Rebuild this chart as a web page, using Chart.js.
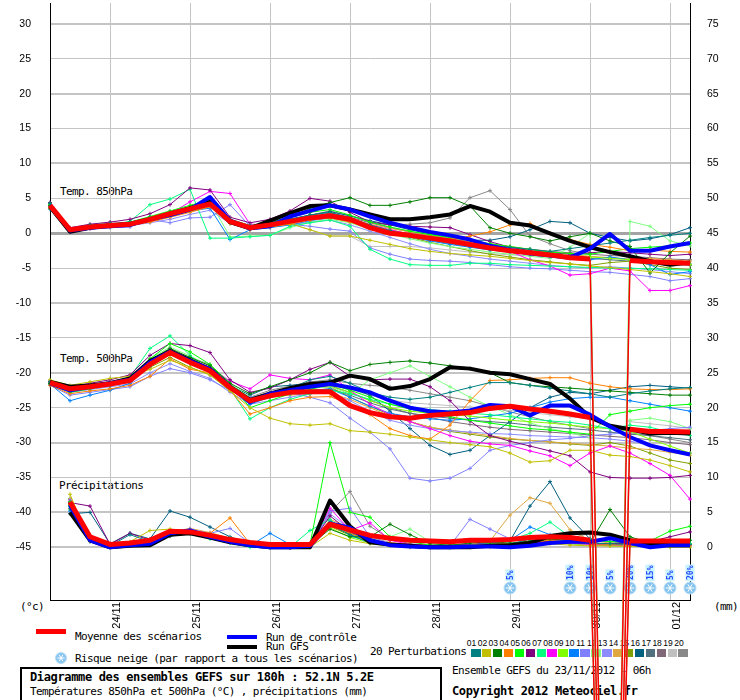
<!DOCTYPE html>
<html lang="fr"><head><meta charset="utf-8"><title>Diagramme des ensembles GEFS</title>
<script src="https://cdn.jsdelivr.net/npm/chart.js@4.4.1/dist/chart.umd.min.js"></script>
<style>
html,body{margin:0;padding:0;background:#fff;}
#wrap{position:relative;width:740px;height:700px;overflow:hidden;background:#fff;}
#c{position:absolute;left:0;top:0;z-index:5;}
.t{position:absolute;z-index:1;font-family:"DejaVu Sans Mono",monospace;font-size:11px;letter-spacing:-0.6px;line-height:12px;color:#000;white-space:nowrap;}
.tb{font-weight:bold;font-size:12px;letter-spacing:-0.35px;}
.bar{position:absolute;z-index:1;}
.num{position:absolute;z-index:1;font-family:"Liberation Sans",sans-serif;font-size:8.5px;line-height:9px;width:11px;text-align:center;color:#000;}
.sw{position:absolute;z-index:1;width:9.5px;height:8px;}
.frame{position:absolute;z-index:1;border:2px solid #000;}
</style></head><body>
<div id="wrap">
<canvas id="c" width="740" height="700" style="width:740px;height:700px"></canvas>
<div class="t" style="left:60px;top:186px">Temp. 850hPa</div>
<div class="t" style="left:60px;top:353px">Temp. 500hPa</div>
<div class="t" style="left:59px;top:480px">Précipitations</div>
<div class="t" style="left:20px;top:601px">(°c)</div>
<div class="t" style="left:714px;top:601px">(mm)</div>
<div class="bar" style="left:36px;top:629px;width:30px;height:5px;background:#ff0000"></div>
<div class="t" style="left:75px;top:631px">Moyenne des scénarios</div>
<div class="bar" style="left:227px;top:635px;width:30px;height:4px;background:#0000ff"></div>
<div class="t" style="left:266px;top:632px">Run de contrôle</div>
<div class="bar" style="left:227px;top:645px;width:30px;height:4px;background:#000"></div>
<div class="t" style="left:266px;top:641px">Run GFS</div>
<div class="t" style="left:75px;top:653px">Risque neige (par rapport a tous les scénarios)</div>
<div class="t" style="left:370px;top:646px">20 Perturbations</div>
<div id="plegend"></div>
<div class="frame" style="left:20px;top:667px;width:418px;height:40px"></div>
<div class="t tb" style="left:30px;top:671px">Diagramme des ensembles GEFS sur 180h : 52.1N 5.2E</div>
<div class="t" style="left:30px;top:686px">Températures 850hPa et 500hPa (°C) , précipitations (mm)</div>
<div class="t" style="left:452px;top:665px">Ensemble GEFS du 23/11/2012 - 06h</div>
<div class="t tb" style="left:452px;top:685px">Copyright 2012 Meteociel.fr</div>
</div>
<script>
// ---- time axis (forecast hours from 23/11 06h) ----
const hours = [0,6,12,18,24,30,36,42,48,54,60,66,72,78,84,90,96,102,108,114,120,126,132,138,144,150,156,162,168,174,180,186,192];
const dayTickHours = [18,42,66,90,114,138,162,186];
const dayLabels = ['24/11','25/11','26/11','27/11','28/11','29/11','30/11','01/12'];
const leftTicks = [30,25,20,15,10,5,0,-5,-10,-15,-20,-25,-30,-35,-40,-45];
const rightTicks = [75,70,65,60,55,50,45,40,35,30,25,20,15,10,5,0];
// snow risk (%) per step
const snowRisk = [null,null,null,null,null,null,null,null,null,null,null,null,null,null,null,null,null,null,null,null,null,null,null,5,null,null,10,10,5,20,15,5,20];

const pertNames = ['01','02','03','04','05','06','07','08','09','10','11','12','13','14','15','16','17','18','19','20'];
const pertColors = ['#008080','#c0c000','#008000','#ff8000','#00ff00','#800080','#00ff80','#ff00ff','#80ff00','#0080ff','#8080ff','#80ff80','#8c8cff','#e0a840','#80a000','#006080','#507080','#806878','#c0c0c0','#888888'];

// ---- Temp 850 hPa (°C) ----
const t850Mean    = [4.0,0.5,0.9,1.1,1.3,2.0,2.8,3.5,4.2,1.7,0.8,1.2,1.7,2.2,2.5,2.0,0.8,0.0,-0.3,-0.7,-1.1,-1.6,-2.1,-2.5,-2.8,-3.1,-3.5,-3.7,-150,-3.9,-4.1,-4.2,-4.3];
const t850Control = [4.0,0.4,0.8,1.0,1.2,2.0,2.6,3.4,5.2,1.8,0.7,1.0,2.4,3.2,4.0,3.4,2.4,1.5,0.8,0.2,-0.3,-0.9,-1.8,-2.4,-2.9,-3.2,-3.5,-2.2,-0.1,-2.5,-2.5,-1.9,-1.4];
const t850Gfs     = [3.8,0.2,0.8,1.1,1.3,2.0,2.8,3.6,4.5,1.6,0.7,1.8,2.9,3.9,4.0,3.4,2.7,2.0,2.0,2.3,2.7,3.9,3.1,1.5,1.1,0.0,-1.1,-2.0,-2.7,-3.3,-4.0,-4.5,-4.2];
const t850Members = [
 [4.3,0.6,1.2,1.4,1.6,2.2,3.0,3.6,4.4,1.9,1.0,1.6,2.0,2.6,3.0,2.2,1.2,0.4,-0.3,-0.8,-1.2,-1.5,-1.8,-2.0,-2.3,-2.6,-2.2,-1.8,-1.4,-1.0,-0.6,-0.3,0.0],
 [3.8,0.3,0.8,1.0,1.3,1.8,2.5,3.2,4.0,1.5,0.8,1.0,1.4,0.5,-0.4,-0.4,-1.0,-1.6,-2.2,-2.6,-2.9,-3.1,-3.3,-3.6,-3.9,-4.2,-4.4,-4.7,-4.9,-5.2,-5.5,-5.8,-6.2],
 [4.0,0.5,1.0,1.3,1.5,2.1,2.9,3.7,4.6,1.8,1.0,1.5,2.2,3.6,4.4,5.1,4.0,4.0,4.5,5.1,5.1,3.9,0.8,0.0,-0.5,-1.1,-0.5,0.0,-1.1,-1.9,-5.7,-2.8,-0.4],
 [3.6,0.3,0.7,0.9,1.1,1.6,2.3,3.0,3.8,1.4,0.5,0.9,1.3,1.9,2.2,1.6,0.8,0.3,-0.2,-0.6,-0.9,-0.4,0.2,1.2,1.4,0.0,-0.9,-1.6,-2.0,-2.5,-2.4,-2.6,-2.7],
 [4.2,0.6,1.1,1.3,1.6,2.4,3.2,4.0,4.8,2.0,1.1,1.6,2.3,3.0,3.4,2.6,1.6,0.9,0.3,-0.2,-0.6,-1.0,-1.5,-1.9,-2.3,-2.7,-2.9,-3.0,-2.6,-2.2,-2.0,-1.8,-1.4],
 [4.4,0.8,1.3,1.6,2.0,2.8,4.1,6.5,6.2,2.3,1.5,2.0,3.2,5.0,4.6,3.0,1.6,1.2,1.0,0.9,0.8,-0.2,-1.2,-2.0,-2.5,-2.8,-3.0,-2.8,-2.6,-2.8,-3.0,-3.2,-3.0],
 [3.5,0.4,0.9,1.2,1.7,4.1,4.9,6.3,-0.7,-0.7,-0.5,-0.3,1.0,1.5,1.9,1.0,-2.3,-3.7,-4.5,-4.6,-4.6,-4.3,-4.3,-4.5,-4.6,-4.7,-4.8,-4.9,-5.0,-5.0,-5.1,-5.2,-5.3],
 [3.9,0.5,1.0,1.2,1.4,2.0,2.8,4.5,6.0,5.7,1.3,1.2,1.6,2.2,2.6,2.0,1.2,0.5,-0.1,-0.7,-1.2,-1.6,-2.0,-2.6,-3.8,-4.7,-6.0,-5.8,-5.0,-5.4,-8.2,-8.2,-7.5],
 [3.7,0.4,0.9,1.1,1.3,2.0,2.9,3.6,4.4,1.7,0.8,1.2,1.5,2.0,2.5,1.9,1.1,0.5,-0.1,-0.7,-1.2,-1.6,-2.0,-2.4,-2.7,-3.0,-3.2,-3.4,-3.6,-3.8,-4.0,-4.3,-4.5],
 [3.8,0.3,0.8,1.0,1.2,1.7,2.4,3.2,3.6,-0.9,0.5,0.8,1.2,1.8,2.2,1.7,0.9,0.2,-0.5,-1.1,-1.6,-2.0,-2.4,-2.7,-3.0,-3.3,-3.6,-3.8,-3.4,-3.8,-4.5,-5.9,-5.5],
 [3.4,0.2,0.6,0.8,0.9,2.0,1.5,2.2,2.3,4.1,1.0,1.1,1.3,1.0,0.6,0.3,-2.1,-3.0,-3.7,-3.9,-4.0,-4.2,-4.5,-4.8,-5.0,-5.1,-5.3,-5.5,-5.6,-5.9,-6.2,-6.8,-6.5],
 [4.1,0.5,1.0,1.2,1.5,2.2,3.0,3.8,4.5,-0.5,-0.4,-0.3,0.8,1.6,2.0,1.5,0.6,-0.1,-0.8,-1.4,-1.9,-2.3,-2.7,-3.0,-3.3,-3.6,-2.0,0.0,-150,1.7,1.0,-1.1,-1.8],
 [3.6,0.3,0.7,0.9,1.1,1.5,2.0,2.7,3.3,1.4,0.6,0.9,1.2,1.6,1.9,1.2,0.3,-0.6,-1.5,-2.3,-2.9,-3.3,-3.7,-4.0,-4.3,-4.6,-4.8,-5.0,-4.8,-5.0,-5.2,-5.5,-5.8],
 [3.9,0.4,0.9,1.1,1.3,1.9,2.7,3.4,4.1,1.6,0.9,1.3,1.7,2.3,2.7,2.1,1.3,0.7,0.2,-0.3,-0.7,-1.1,-1.5,-1.9,-2.3,-2.7,-3.0,-3.3,-3.5,-3.7,-3.6,-3.8,-4.0],
 [4.0,0.5,1.0,1.2,1.4,2.0,2.8,3.5,4.3,1.8,0.8,1.2,1.6,2.1,2.5,1.8,0.9,0.2,-0.6,-1.3,-1.9,-2.5,-3.0,-3.4,-3.8,-4.1,-4.4,-4.6,-4.2,-4.0,-4.5,-5.0,-5.2],
 [4.2,0.6,1.1,1.3,1.6,2.3,3.1,3.8,4.6,2.0,1.1,1.5,2.0,2.6,3.1,2.5,1.8,1.2,0.5,-0.1,-0.6,-1.0,-1.0,-0.5,0.5,1.7,1.5,0.0,-0.6,-1.1,-0.8,-0.2,0.8],
 [3.7,0.4,0.9,1.1,1.3,1.8,2.5,3.3,4.0,1.5,0.7,1.1,1.5,2.0,2.3,1.7,0.9,0.2,-0.4,-1.0,-1.5,-1.9,-2.3,-2.6,-2.9,-3.2,-3.4,-3.6,-3.8,-4.0,-4.1,-4.3,-4.6],
 [3.8,0.4,0.9,1.2,1.4,2.0,2.8,3.5,4.2,1.7,0.9,1.3,1.8,2.4,2.9,2.3,1.5,0.8,0.2,-0.3,-0.8,-1.2,-1.6,-2.0,-2.3,-2.6,-2.8,-3.0,-3.2,-3.3,-3.5,-3.7,-3.8],
 [3.5,0.2,0.7,1.0,1.2,1.7,2.4,3.1,3.8,1.4,0.6,1.0,1.4,0.5,-0.4,-0.4,-1.9,-1.9,-1.9,-2.1,-2.4,-2.7,-2.9,-3.1,-3.2,-3.3,-3.4,-3.6,-150,-3.9,-4.1,-4.4,-4.6],
 [3.9,0.5,1.0,1.2,1.5,2.1,2.9,3.6,4.4,1.8,1.0,1.5,2.0,2.6,3.2,2.5,1.6,1.2,1.3,1.5,2.2,5.1,6.1,3.4,-0.4,-1.5,-2.5,-3.0,-150,-3.6,-3.8,-4.2,-4.4]
];

// ---- Temp 500 hPa (°C) ----
const t500Mean    = [-21.4,-22.3,-22.0,-21.6,-21.1,-18.8,-17.1,-18.5,-19.7,-22.1,-24.0,-23.3,-22.8,-22.7,-22.7,-24.7,-25.7,-26.3,-26.5,-26.1,-25.9,-25.7,-25.1,-24.8,-25.2,-25.5,-25.9,-26.4,-150,-28.1,-28.4,-28.4,-28.5];
const t500Control = [-21.5,-22.5,-22.0,-21.5,-21.0,-18.5,-17.0,-18.3,-19.5,-22.0,-24.2,-23.0,-22.5,-22.0,-21.6,-22.1,-22.8,-24.0,-25.0,-25.5,-25.7,-25.4,-24.6,-24.8,-26.1,-24.7,-24.7,-26.0,-27.7,-29.2,-30.4,-31.1,-31.7];
const t500Gfs     = [-21.3,-22.0,-21.8,-21.5,-20.8,-18.3,-16.9,-18.2,-19.5,-22.0,-23.9,-23.0,-22.2,-21.6,-21.4,-20.4,-20.9,-22.3,-21.9,-20.9,-19.2,-19.4,-20.0,-20.2,-20.9,-21.6,-23.7,-26.4,-27.6,-28.1,-28.7,-28.6,-28.7];
const t500Members = [
 [-21.3,-22.6,-22.2,-21.8,-21.0,-18.6,-16.8,-18.3,-19.5,-22.0,-24.0,-23.0,-22.3,-21.0,-20.5,-21.5,-22.8,-23.5,-23.8,-23.5,-22.8,-22.1,-21.4,-21.4,-21.8,-22.2,-22.6,-23.0,-23.5,-23.0,-22.6,-22.3,-22.1],
 [-21.0,-21.8,-21.3,-20.8,-20.5,-19.5,-18.2,-19.2,-20.3,-22.6,-25.0,-26.5,-27.3,-27.5,-27.3,-28.3,-28.5,-28.8,-29.2,-29.6,-30.0,-30.3,-30.6,-31.5,-32.8,-32.6,-31.1,-31.1,-31.8,-32.0,-32.5,-33.3,-34.2],
 [-21.5,-22.3,-22.0,-21.5,-20.8,-18.2,-16.5,-17.8,-19.0,-21.5,-23.0,-22.0,-21.0,-20.0,-18.5,-19.7,-18.8,-18.5,-18.3,-18.6,-19.0,-19.4,-20.0,-21.4,-21.8,-22.0,-22.2,-22.4,-22.6,-22.8,-23.0,-23.2,-23.2],
 [-21.8,-23.0,-22.6,-22.3,-21.8,-20.5,-18.0,-19.5,-20.0,-22.5,-25.9,-25.0,-24.0,-23.5,-23.4,-24.5,-26.0,-28.0,-29.0,-29.5,-27.5,-24.0,-21.1,-21.0,-20.8,-20.7,-20.7,-21.5,-22.0,-22.3,-22.4,-22.4,-22.3],
 [-21.5,-22.8,-22.3,-21.8,-21.0,-18.0,-15.8,-17.0,-18.8,-21.5,-25.0,-24.0,-23.0,-22.4,-21.6,-22.5,-23.5,-24.5,-25.2,-25.8,-26.3,-26.8,-27.2,-27.6,-28.0,-28.2,-28.5,-28.8,-26.0,-25.5,-25.0,-24.7,-24.5],
 [-21.2,-22.0,-21.5,-21.0,-20.3,-17.5,-15.8,-16.1,-17.1,-21.0,-22.8,-22.2,-21.0,-19.5,-18.5,-20.5,-21.0,-20.9,-20.9,-22.0,-24.0,-26.9,-29.0,-29.8,-30.5,-31.2,-31.9,-34.2,-35.0,-35.1,-35.1,-35.0,-34.7],
 [-21.6,-22.5,-22.0,-21.5,-20.6,-16.5,-14.7,-17.5,-19.8,-22.3,-26.6,-25.0,-23.8,-23.0,-22.5,-23.0,-23.8,-24.5,-25.0,-25.3,-25.5,-25.8,-26.0,-26.3,-26.6,-26.9,-27.1,-27.5,-28.0,-27.5,-27.8,-28.5,-29.0],
 [-21.4,-22.3,-21.9,-21.4,-20.8,-18.3,-16.6,-18.0,-19.2,-21.2,-22.3,-20.3,-20.8,-21.0,-20.3,-22.5,-24.5,-26.0,-27.0,-28.0,-29.0,-29.8,-30.2,-30.4,-31.2,-31.9,-33.3,-31.5,-30.5,-31.5,-33.0,-34.7,-38.1],
 [-21.4,-22.2,-21.9,-21.4,-20.8,-18.5,-16.8,-18.3,-19.5,-22.0,-23.8,-23.0,-22.5,-22.0,-21.8,-22.8,-24.0,-25.0,-25.5,-25.8,-26.0,-26.2,-26.5,-26.8,-27.0,-27.2,-27.5,-27.8,-28.0,-28.4,-29.5,-30.5,-31.5],
 [-21.6,-24.0,-23.2,-22.5,-21.5,-19.0,-17.2,-18.6,-19.8,-22.3,-24.5,-23.5,-23.0,-22.6,-22.3,-23.5,-24.8,-25.8,-26.3,-26.6,-26.8,-26.6,-26.2,-25.8,-25.0,-24.2,-23.7,-23.5,-23.5,-24.0,-24.5,-25.0,-25.5],
 [-21.8,-23.2,-22.8,-22.4,-22.0,-20.5,-19.4,-20.0,-21.0,-22.5,-23.5,-23.0,-22.8,-23.5,-24.3,-26.5,-28.5,-30.9,-35.1,-35.5,-35.1,-33.7,-31.1,-30.4,-30.0,-29.6,-29.4,-29.0,-28.8,-28.5,-28.3,-28.0,-27.8],
 [-21.3,-22.2,-21.8,-21.3,-20.6,-18.0,-16.3,-17.6,-19.0,-21.6,-23.5,-23.0,-22.6,-22.2,-22.0,-23.0,-21.0,-20.0,-19.0,-20.5,-22.0,-23.5,-24.8,-26.0,-27.2,-28.0,-28.6,-29.3,-150,-26.8,-26.5,-27.0,-28.0],
 [-21.5,-22.8,-22.4,-22.0,-21.6,-20.0,-18.7,-19.8,-20.8,-22.8,-24.5,-24.0,-23.5,-23.0,-22.8,-24.0,-25.5,-26.8,-27.5,-28.0,-28.3,-28.5,-28.7,-28.8,-29.0,-29.1,-29.2,-29.3,-29.5,-29.8,-30.3,-31.0,-31.5],
 [-21.4,-22.4,-22.0,-21.5,-20.9,-18.7,-17.2,-18.6,-19.7,-22.2,-24.2,-23.5,-23.2,-23.0,-22.9,-23.8,-25.0,-26.2,-27.0,-27.8,-28.2,-28.6,-29.0,-29.4,-29.7,-29.9,-30.1,-30.3,-30.5,-30.8,-31.0,-31.4,-31.8],
 [-21.7,-22.6,-22.2,-21.8,-21.2,-19.2,-17.8,-19.2,-20.3,-22.5,-24.0,-23.0,-22.5,-22.2,-22.0,-23.5,-24.8,-26.0,-27.0,-27.8,-28.4,-28.8,-29.2,-29.5,-29.7,-29.9,-30.2,-30.4,-30.0,-30.5,-31.5,-32.5,-33.0],
 [-21.5,-22.4,-22.0,-21.6,-21.0,-18.8,-17.0,-18.2,-19.4,-21.8,-23.2,-22.0,-21.8,-21.5,-21.2,-22.2,-23.2,-25.5,-28.0,-30.4,-31.7,-31.1,-29.0,-27.0,-25.0,-23.5,-22.8,-23.0,-22.5,-22.0,-21.8,-22.0,-22.2],
 [-21.3,-22.5,-22.1,-21.7,-21.1,-18.8,-17.1,-18.6,-19.8,-22.2,-24.0,-23.3,-22.8,-22.5,-22.3,-23.2,-24.3,-25.2,-25.8,-26.2,-26.5,-26.8,-27.0,-27.2,-27.5,-27.8,-28.0,-28.2,-28.5,-28.8,-29.0,-29.3,-29.6],
 [-21.4,-22.3,-21.9,-21.4,-20.9,-18.6,-17.0,-18.4,-19.6,-22.0,-23.7,-22.9,-22.4,-22.1,-21.9,-22.8,-23.9,-25.0,-25.8,-26.4,-27.0,-27.4,-27.8,-28.1,-28.3,-28.5,-28.7,-28.9,-29.1,-29.3,-29.6,-30.0,-30.3],
 [-21.2,-22.1,-21.7,-21.3,-20.7,-18.4,-16.9,-18.3,-19.5,-21.9,-23.6,-22.7,-22.2,-21.8,-21.5,-22.4,-23.2,-23.9,-24.3,-24.5,-24.7,-24.9,-25.1,-25.4,-25.7,-26.0,-26.3,-26.6,-150,-27.0,-27.3,-27.6,-28.0],
 [-21.3,-22.2,-21.8,-21.4,-20.8,-18.5,-16.8,-17.8,-18.8,-21.8,-23.5,-22.5,-21.9,-21.3,-21.0,-21.5,-21.8,-22.0,-22.5,-23.0,-23.5,-24.0,-24.8,-25.6,-26.3,-27.0,-27.5,-28.0,-150,-28.6,-29.0,-29.5,-30.0]
];

// ---- Precipitations (mm, right axis) ----
const rrMean    = [null,6.5,1.5,0.4,0.6,1.0,2.3,2.2,1.7,1.1,0.7,0.4,0.4,0.4,3.3,2.5,1.7,1.3,1.0,0.9,0.8,1.0,1.0,1.1,1.4,1.5,1.4,1.0,-105,0.9,0.9,0.9,0.9];
const rrControl = [null,6.0,1.0,0.0,0.3,0.5,2.0,2.4,1.5,0.8,0.3,0.0,0.0,0.2,3.4,2.8,1.0,0.3,0.1,0.0,0.0,0.1,0.1,0.0,0.2,0.6,0.8,0.8,1.3,0.6,0.0,0.3,0.3];
const rrGfs     = [null,5.0,1.0,0.0,0.2,0.3,1.8,2.0,1.4,0.7,0.3,0.0,0.0,0.0,6.7,3.0,0.7,0.4,0.2,0.0,0.0,0.0,0.2,0.3,0.6,1.6,2.0,2.1,1.8,1.0,0.5,0.3,0.3];
const rrMembers = [
 [null,6.0,1.5,0.2,1.8,0.8,1.6,2.0,1.4,0.7,0.3,0.0,0.0,0.2,3.2,1.8,0.6,0.3,0.1,0.0,0.0,0.2,0.3,0.4,1.2,1.5,1.0,0.6,0.5,0.4,0.3,0.3,0.4],
 [null,7.6,0.8,0.3,0.8,2.4,2.6,2.2,1.7,1.2,0.5,0.0,0.0,0.0,2.0,1.0,0.5,0.2,0.0,0.0,0.0,0.0,0.0,0.3,0.4,0.5,0.3,0.2,0.2,0.1,0.1,0.0,0.0],
 [null,5.5,1.0,0.0,0.3,0.6,1.8,2.4,1.8,1.2,0.4,0.1,0.0,0.3,2.6,1.5,1.5,3.3,1.8,0.5,0.3,0.6,0.8,0.6,0.9,1.2,0.9,0.6,5.4,1.5,0.6,0.8,1.0],
 [null,6.2,1.2,0.2,0.5,0.9,1.6,2.3,2.0,4.2,0.5,0.1,0.0,0.2,3.0,2.0,0.8,0.6,0.3,0.2,0.2,0.3,0.4,0.5,0.7,1.0,0.8,0.5,0.4,0.3,0.2,0.2,0.3],
 [null,6.5,1.6,0.3,0.6,0.8,2.0,2.4,1.6,0.8,0.3,0.0,0.1,0.4,15.0,5.0,4.3,1.5,0.8,0.3,0.2,0.3,0.5,0.4,0.8,1.1,1.2,1.0,0.8,0.8,0.9,2.3,3.0],
 [null,6.4,5.9,0.4,2.0,1.0,2.0,2.2,1.6,1.0,0.4,0.1,0.0,0.2,4.5,2.2,1.2,0.5,0.2,0.2,0.3,0.4,0.5,0.4,0.6,0.9,0.7,0.5,0.5,0.6,0.8,1.5,2.2],
 [null,5.8,1.0,0.1,0.4,0.5,1.7,2.1,1.2,0.6,0.0,0.0,0.0,2.4,4.0,1.6,0.8,0.3,0.1,0.0,0.0,0.1,0.3,1.0,2.0,3.6,1.5,0.6,0.5,0.4,0.3,0.4,0.5],
 [null,6.6,1.3,0.3,0.5,0.7,2.1,2.5,1.8,1.0,0.4,0.1,0.0,0.2,5.6,2.4,3.5,1.0,0.4,0.2,0.1,0.2,0.3,0.4,0.6,0.8,0.6,0.4,0.3,0.3,0.2,0.2,0.2],
 [null,6.0,1.0,0.2,0.4,0.6,1.9,2.3,1.7,1.0,0.3,0.0,0.0,0.1,2.8,1.4,0.6,0.3,0.2,0.1,0.1,0.2,0.3,0.4,0.6,0.7,0.5,0.3,0.2,0.2,0.1,0.1,0.2],
 [null,5.2,0.8,0.1,0.3,0.5,1.6,2.0,1.4,0.8,0.2,2.0,0.4,0.1,3.6,1.8,0.8,0.4,0.2,0.1,0.1,0.3,0.6,1.0,2.9,1.8,1.0,0.6,0.4,0.3,0.3,0.3,0.4],
 [null,6.8,1.4,0.3,0.6,0.8,2.3,2.6,2.0,2.7,0.6,0.2,0.0,0.3,5.2,5.6,1.5,0.6,0.3,0.2,0.2,4.0,2.6,1.2,0.8,0.6,0.5,0.4,0.4,0.4,0.3,0.3,0.3],
 [null,6.3,1.2,0.2,0.4,0.7,2.0,2.4,1.8,1.1,0.5,0.1,0.0,0.2,3.4,1.9,1.0,1.5,2.6,0.8,0.3,0.3,0.4,0.5,0.7,1.0,0.8,0.6,-105,0.6,0.5,0.5,0.6],
 [null,6.1,1.1,0.2,0.5,0.6,1.8,2.2,1.6,0.9,0.3,0.0,0.0,0.2,4.8,2.6,1.2,0.5,0.3,0.2,0.1,0.2,0.3,0.4,0.5,0.7,0.5,0.4,0.3,0.3,0.2,0.2,0.3],
 [null,6.9,1.5,0.3,0.6,0.9,2.2,2.7,2.1,1.3,0.6,0.2,0.1,0.3,4.0,2.8,1.4,0.7,0.4,0.2,0.2,0.4,0.9,4.6,7.1,6.3,2.5,1.0,0.6,0.5,0.4,0.4,0.5],
 [null,7.0,1.4,0.3,0.7,1.0,2.1,2.5,1.9,1.1,0.5,0.1,0.0,0.2,3.0,1.7,0.9,0.4,0.2,0.1,0.1,0.2,0.3,0.5,0.6,0.8,0.6,0.4,0.3,0.3,0.2,0.2,0.3],
 [null,4.8,5.0,0.5,2.0,1.2,5.2,4.3,2.9,1.5,0.5,0.1,0.0,0.3,3.8,2.0,1.0,0.5,0.3,0.2,0.2,0.4,0.7,0.9,5.9,9.4,4.2,1.2,0.8,0.6,0.4,0.4,0.5],
 [null,6.2,1.1,0.2,0.5,0.7,1.9,2.3,1.7,1.0,0.4,0.1,0.0,0.2,3.5,2.0,1.0,0.5,0.3,0.2,0.1,0.2,0.3,0.5,0.6,0.8,0.7,0.5,0.4,0.3,0.3,0.3,0.4],
 [null,6.4,1.3,0.3,0.6,0.8,2.0,2.4,1.8,1.0,0.4,0.1,0.0,0.2,3.8,2.2,1.1,0.5,0.3,0.2,0.1,0.2,0.3,0.4,0.6,0.9,0.7,0.5,0.4,0.3,0.3,0.3,0.3],
 [null,6.7,1.4,0.3,0.6,0.9,2.1,2.5,1.9,1.1,0.5,0.1,0.0,0.2,3.3,2.0,1.3,0.6,0.3,0.2,0.1,0.2,0.3,0.4,0.6,0.8,0.7,0.5,-105,0.4,0.3,0.3,0.3],
 [null,6.5,1.2,0.2,0.5,0.8,2.0,2.4,1.8,1.0,0.4,0.1,0.0,0.2,5.0,8.0,3.0,1.2,0.5,0.3,0.2,0.3,0.4,0.5,0.7,1.0,1.3,2.0,-105,1.0,0.6,0.5,0.5]
];

// ---- perturbation legend (HTML) ----
(function(){
  const host = document.getElementById('plegend');
  pertNames.forEach((n,i)=>{
    const d = document.createElement('div'); d.className='num';
    d.style.left = (466 + i*10.92) + 'px'; d.style.top = '639px'; d.textContent = n; host.appendChild(d);
    const s = document.createElement('div'); s.className='sw';
    s.style.left = (471 + i*10.92) + 'px'; s.style.top = '649px'; s.style.background = pertColors[i]; host.appendChild(s);
  });
})();

// ---- datasets ----
function isSpike(v, axis){ return v != null && v < (axis === 'y' ? -60 : -15); }
function series(label, vals, color, width, axis, order, points){
  return {
    label, yAxisID: axis, order,
    data: vals.map((v,i)=>({x: hours[i], y: v})),
    borderColor: color, backgroundColor: color, borderWidth: width,
    pointRadius: points ? 2 : 0, pointStyle: 'cross', pointBorderWidth: 1, pointBorderColor: color,
    pointHoverRadius: 0, tension: 0, clip: false, spanGaps: false, borderJoinStyle: 'round',
    segment: { borderWidth: c => (isSpike(vals[c.p0DataIndex], axis) || isSpike(vals[c.p1DataIndex], axis)) ? Math.min(width, 1.5) : width }
  };
}
const datasets = [];
const groups = [
  {name:'T850', axis:'y',  mean:t850Mean, ctrl:t850Control, gfs:t850Gfs, members:t850Members},
  {name:'T500', axis:'y',  mean:t500Mean, ctrl:t500Control, gfs:t500Gfs, members:t500Members},
  {name:'RR',   axis:'y2', mean:rrMean,   ctrl:rrControl,   gfs:rrGfs,   members:rrMembers}
];
groups.forEach(g=>{
  g.members.forEach((m,i)=> datasets.push(series(g.name+' P'+pertNames[i], m, pertColors[i], 1, g.axis, 10, true)));
  datasets.push(series(g.name+' GFS', g.gfs, '#000000', 4, g.axis, 3, false));
  datasets.push(series(g.name+' contrôle', g.ctrl, '#0000ff', 4, g.axis, 2, false));
  datasets.push(series(g.name+' moyenne', g.mean, '#ff0000', 5, g.axis, 1, false));
});

function drawFlake(ctx, x, y, r){
  ctx.save();
  ctx.beginPath(); ctx.arc(x, y, r, 0, Math.PI*2);
  ctx.fillStyle = '#86c4ee'; ctx.fill();
  ctx.lineWidth = 1; ctx.strokeStyle = '#b4dcf8'; ctx.stroke();
  ctx.strokeStyle = '#ffffff'; ctx.lineWidth = 1;
  for (let k=0;k<3;k++){
    const a = k*Math.PI/3, rr = r-1.8;
    ctx.beginPath(); ctx.moveTo(x-Math.cos(a)*rr, y-Math.sin(a)*rr); ctx.lineTo(x+Math.cos(a)*rr, y+Math.sin(a)*rr); ctx.stroke();
  }
  ctx.restore();
}
const snowPlugin = {
  id: 'snow',
  beforeDatasetsDraw(chart){
    const {ctx, scales:{x}, chartArea} = chart;
    snowRisk.forEach((p,i)=>{
      if (p == null) return;
      const px = x.getPixelForValue(hours[i]);
      const cy = chartArea.bottom - 12;
      drawFlake(ctx, px, cy, 6);
      const txt = p + '%';
      ctx.save();
      ctx.translate(px, cy - 7); ctx.rotate(-Math.PI/2);
      ctx.font = 'bold 8px "DejaVu Sans Mono"';
      const w = ctx.measureText(txt).width;
      ctx.fillStyle = '#c8f4ff'; ctx.fillRect(0, -4.5, w + 2, 9);
      ctx.fillStyle = '#2848ff'; ctx.textBaseline = 'middle'; ctx.textAlign = 'left';
      ctx.fillText(txt, 1, 0.5);
      ctx.restore();
    });
  },
  afterDraw(chart){
    drawFlake(chart.ctx, 61, 658, 5.5);
  }
};

const gridColor = c => (c.tick && c.tick.value === 0) ? '#a4a4a4' : '#c4c4c4';
const gridWidth = c => {
  const v = c.tick ? c.tick.value : 1;
  if (v === 0) return 3;
  if (v % 10 === 0 || v === -45) return 2;
  return 1;
};
const tickFont = {family: 'Liberation Sans', size: 10.5};

new Chart(document.getElementById('c'), {
  type: 'line',
  data: { datasets },
  plugins: [snowPlugin],
  options: {
    responsive: false, animation: false, events: [],
    layout: { padding: 0 },
    plugins: { legend: {display:false}, tooltip: {enabled:false} },
    scales: {
      x: {
        type: 'linear', min: 0, max: 192, position: 'bottom',
        afterBuildTicks: s => { s.ticks = dayTickHours.map(v=>({value:v})); },
        afterFit: s => { s.height = 100; s.paddingLeft = 0; s.paddingRight = 0; },
        ticks: { autoSkip:false, minRotation:90, maxRotation:90, padding:2, labelOffset:7, color:'#000', font: {family:'Liberation Sans', size:11},
                 callback: (v,i) => dayLabels[i] },
        grid: { drawTicks:false, color:'#c4c4c4', lineWidth:1 },
        border: { display:true, color:'#000', width:1 }
      },
      y: {
        type: 'linear', position: 'left', min: -52.56, max: 33.0,
        afterBuildTicks: s => { s.ticks = leftTicks.map(v=>({value:v})); },
        afterFit: s => { s.width = 50; s.paddingTop = 0; s.paddingBottom = 0; },
        ticks: { padding: 19, color:'#000', font: tickFont, callback: v => String(v) },
        grid: { drawTicks:false, color: gridColor, lineWidth: gridWidth },
        border: { display:true, color:'#000', width:1 }
      },
      y2: {
        type: 'linear', position: 'right', min: -7.56, max: 78.0,
        afterBuildTicks: s => { s.ticks = rightTicks.map(v=>({value:v})); },
        afterFit: s => { s.width = 50; s.paddingTop = 0; s.paddingBottom = 0; },
        ticks: { padding: 17, color:'#000', font: tickFont, callback: v => String(v) },
        grid: { display:false, drawTicks:false },
        border: { display:true, color:'#000', width:1 }
      }
    }
  }
});
</script>
</body></html>
